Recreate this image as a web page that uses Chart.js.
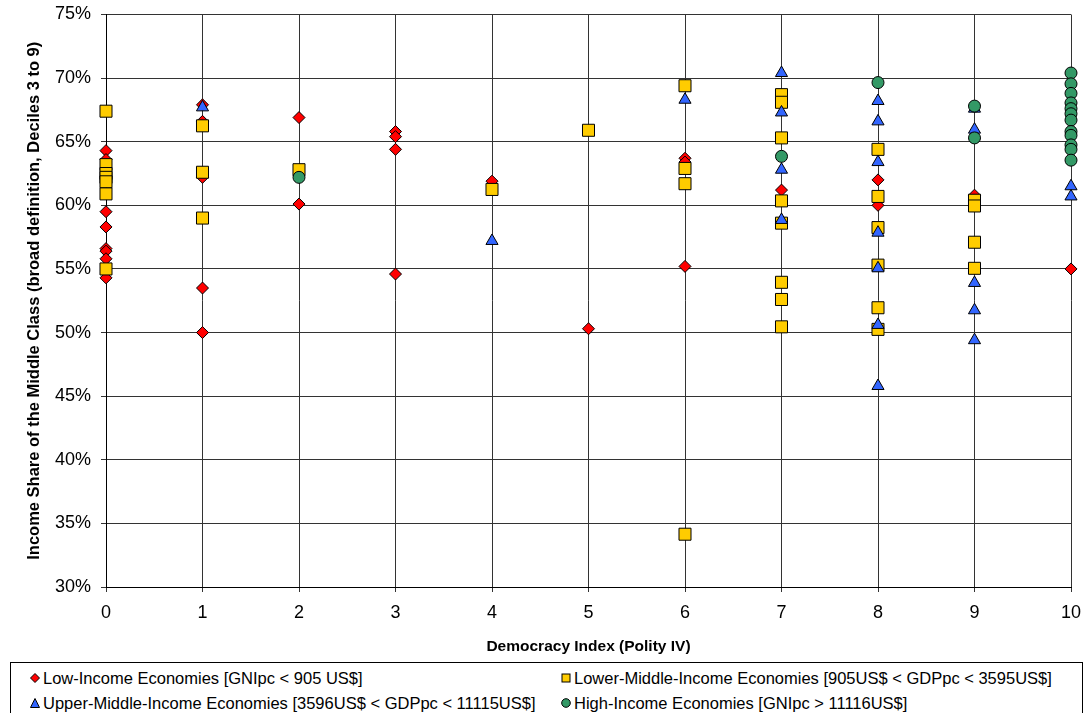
<!DOCTYPE html>
<html>
<head>
<meta charset="utf-8">
<script src="https://cdn.jsdelivr.net/npm/chart.js@4/dist/chart.umd.min.js"></script>
<style>
  html, body { margin: 0; padding: 0; background: #fff; }
  body { width: 1086px; height: 713px; position: relative; overflow: hidden; font-family: "Liberation Sans", Arial, sans-serif; }
  #wrap { position: absolute; left: 0; top: 0; width: 1086px; height: 660px; }
  #legend { position: absolute; left: 10px; top: 662px; width: 1073px; height: 60px; border: 1px solid #000; box-sizing: border-box; font-size: 16.5px; line-height: 20px; color: #000; }
  .item { position: absolute; display: flex; align-items: center; white-space: nowrap; height: 20px; }
  .mk { display: inline-block; margin-right: 3px; }
</style>
</head>
<body>
<div id="wrap"><canvas id="c" width="1086" height="660"></canvas></div>
<div id="legend"></div>
<script>
// Democracy index (x) and income share of middle class in % (y) per income group
const lowX = [0,0,0,0,0,0,0,0, 1,1,1,1,1, 2,2, 3,3,3,3, 4, 5, 6,6,6, 7, 8,8, 9, 10];
const lowY = [64.3,63.6,59.5,58.3,56.6,56.4,55.8,54.3, 67.9,66.6,62.2,53.5,50.0, 66.9,60.1, 65.8,65.4,64.4,54.6, 61.9, 50.3, 63.7,63.4,55.2, 61.2, 62.0,60.0, 60.8, 55.0];

const lmX = [0,0,0,0,0,0,0, 1,1,1, 2, 4, 5, 6,6,6,6, 7,7,7,7,7,7,7,7, 8,8,8,8,8,8, 9,9,9,9];
const lmY = [67.4,63.2,62.5,62.2,61.85,60.9,55.0, 66.25,62.6,59.0, 62.8, 61.25, 65.9, 69.4,62.9,61.7,34.15, 68.7,68.1,65.3,60.35,58.6,53.95,52.6,50.45, 64.4,60.7,58.25,55.3,51.95,50.25, 60.4,59.95,57.1,55.05];

const umX = [1, 4, 6, 7,7,7,7, 8,8,8,8,8,8,8, 9,9,9,9,9, 10,10];
const umY = [67.7, 57.2, 68.3, 70.4,67.3,62.8,58.85, 68.2,66.6,63.4,57.85,55.05,50.6,45.8, 67.6,65.95,53.9,51.75,49.4, 61.5,60.7];

const hiX = [2, 7, 8, 9,9, 10,10,10,10,10,10,10,10,10,10,10,10];
const hiY = [62.2, 63.85, 69.65, 67.8,65.3, 70.4,69.55,68.8,68.05,67.6,67.2,66.7,65.8,65.5,64.75,64.4,63.55];

const yTicks = [30,35,40,45,50,55,60,65,70,75];
const xTicks = [0,1,2,3,4,5,6,7,8,9,10];

const seriesNames = [
  'Low-Income Economies [GNIpc < 905 US$]',
  'Lower-Middle-Income Economies [905US$ < GDPpc < 3595US$]',
  'Upper-Middle-Income Economies [3596US$ < GDPpc < 11115US$]',
  'High-Income Economies [GNIpc > 11116US$]'
];
const seriesColors = ['#FF0000', '#FFCC00', '#3366FF', '#339966'];
const seriesShapes = ['rectRot', 'rect', 'triangle', 'circle'];
const seriesRadius = [6, 8.5, 7, 6];

function pts(xs, ys) { return xs.map((x, i) => ({ x: x, y: ys[i] })); }
const allData = [pts(lowX, lowY), pts(lmX, lmY), pts(umX, umY), pts(hiX, hiY)];

const datasets = allData.map((d, i) => ({
  label: seriesNames[i],
  data: d,
  pointStyle: seriesShapes[i],
  pointRadius: seriesRadius[i],
  pointHoverRadius: seriesRadius[i],
  backgroundColor: seriesColors[i],
  borderColor: '#000',
  borderWidth: 1,
  clip: false,
  order: 4 - i
}));

const FONT = '"Liberation Sans", Arial, sans-serif';

new Chart(document.getElementById('c'), {
  type: 'scatter',
  data: { datasets: datasets },
  options: {
    responsive: false,
    animation: false,
    layout: { padding: { left: 0, right: 15, top: 14.5, bottom: 0 } },
    plugins: { legend: { display: false }, tooltip: { enabled: false } },
    scales: {
      x: {
        type: 'linear', min: 0, max: 10,
        afterBuildTicks: s => { s.ticks = xTicks.map(v => ({ value: v })); },
        afterFit: s => { s.height = 73; s.paddingLeft = 0; s.paddingRight = 0; },
        ticks: { font: { family: FONT, size: 18 }, color: '#000', padding: 10 },
        grid: { color: '#333', lineWidth: 1, tickLength: 5 },
        border: { color: '#000', width: 1 },
        title: { display: true, text: 'Democracy Index (Polity IV)', font: { family: FONT, size: 15.5, weight: 'bold' }, color: '#000', padding: { top: 0, bottom: 4 } }
      },
      y: {
        type: 'linear', min: 30, max: 75,
        afterBuildTicks: s => { s.ticks = yTicks.map(v => ({ value: v })); },
        afterFit: s => { s.width = 106; s.paddingTop = 0; s.paddingBottom = 0; },
        ticks: { font: { family: FONT, size: 18 }, color: '#000', padding: 10, callback: v => v + '%' },
        grid: { color: '#333', lineWidth: 1, tickLength: 5 },
        border: { color: '#000', width: 1 },
        title: { display: true, text: 'Income Share of the Middle Class (broad definition, Deciles 3 to 9)', font: { family: FONT, size: 16.5, weight: 'bold' }, color: '#000', padding: { top: 25, bottom: 0 } }
      }
    }
  }
});

// HTML legend in two columns
function markerSvg(i) {
  const c = seriesColors[i];
  let shape;
  if (i === 0) shape = '<polygon points="5,0.5 9.5,5 5,9.5 0.5,5" fill="' + c + '" stroke="#000" stroke-width="1"/>';
  else if (i === 1) shape = '<rect x="1" y="1" width="8" height="8" fill="' + c + '" stroke="#000" stroke-width="1"/>';
  else if (i === 2) shape = '<polygon points="5,0.5 9.5,9.5 0.5,9.5" fill="' + c + '" stroke="#000" stroke-width="1"/>';
  else shape = '<circle cx="5" cy="5" r="4.3" fill="' + c + '" stroke="#000" stroke-width="1"/>';
  return '<svg class="mk" width="10" height="10" viewBox="0 0 10 10">' + shape + '</svg>';
}
const legendPos = [[19, 5], [550, 5], [19, 30], [550, 30]];
const lg = document.getElementById('legend');
seriesNames.forEach((n, i) => {
  const d = document.createElement('div');
  d.className = 'item';
  d.style.left = legendPos[i][0] + 'px';
  d.style.top = legendPos[i][1] + 'px';
  d.innerHTML = markerSvg(i) + '<span>' + n.replace(/</g, '&lt;').replace(/>/g, '&gt;') + '</span>';
  lg.appendChild(d);
});
</script>
</body>
</html>
